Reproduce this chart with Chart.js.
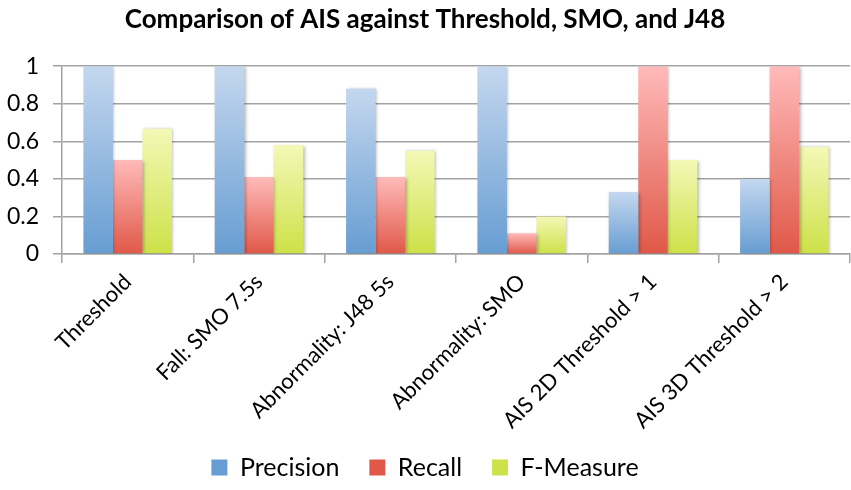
<!DOCTYPE html>
<html>
<head>
<meta charset="utf-8">
<script src="https://cdn.jsdelivr.net/npm/chart.js@4"></script>
<style>
  html, body { margin: 0; padding: 0; background: #fff; }
  #wrap { width: 851px; height: 490px; position: relative; }
</style>
</head>
<body>
<div id="wrap"><canvas id="c" width="851" height="490"></canvas></div>
<script>
const titleText = 'Comparison of AIS against Threshold, SMO, and J48';
const categories = ['Threshold', 'Fall: SMO 7.5s', 'Abnormality: J48 5s', 'Abnormality: SMO', 'AIS 2D Threshold > 1', 'AIS 3D Threshold > 2'];
const seriesNames = ['Precision', 'Recall', 'F-Measure'];
const precision = [1, 1, 0.88, 1, 0.33, 0.4];
const recall = [0.5, 0.41, 0.41, 0.11, 1, 1];
const fMeasure = [0.667, 0.58, 0.55, 0.2, 0.5, 0.57];
const yTickValues = [0, 0.2, 0.4, 0.6, 0.8, 1];

const FONT = 'Lato, "Open Sans", sans-serif';
const GRID = '#a3a3a3';

function gradient(top, bottom, mid) {
  return (ctx) => {
    const chart = ctx.chart;
    if (ctx.type !== 'data' || !chart.chartArea) return mid;
    const ys = chart.scales.y;
    const yTop = ys.getPixelForValue(ctx.raw);
    const yBot = ys.getPixelForValue(0);
    if (!isFinite(yTop) || yBot - yTop < 1) return bottom;
    const g = chart.ctx.createLinearGradient(0, yTop, 0, yBot);
    g.addColorStop(0, top);
    g.addColorStop(1, bottom);
    return g;
  };
}

const shadowPlugin = {
  id: 'barShadow',
  beforeDatasetsDraw(chart) {
    const c = chart.ctx;
    c.save();
    c.shadowColor = 'rgba(0,0,0,0.28)';
    c.shadowBlur = 3;
    c.shadowOffsetX = 1.5;
    c.shadowOffsetY = 0.5;
  },
  afterDatasetsDraw(chart) {
    chart.ctx.restore();
  }
};

new Chart(document.getElementById('c'), {
  type: 'bar',
  data: {
    labels: categories,
    datasets: [
      { label: seriesNames[0], data: precision, backgroundColor: gradient('#c4d7ef', '#679dd2', '#94b9e2') },
      { label: seriesNames[1], data: recall, backgroundColor: gradient('#ffbaba', '#e05848', '#f7938c') },
      { label: seriesNames[2], data: fMeasure, backgroundColor: gradient('#f4f8b6', '#cde148', '#e2ec86') }
    ]
  },
  plugins: [shadowPlugin],
  options: {
    responsive: false,
    animation: false,
    devicePixelRatio: 1,
    layout: { padding: { left: 0, right: 1, top: 0, bottom: 0 } },
    datasets: { bar: { categoryPercentage: 0.674, barPercentage: 1.0, borderWidth: 0 } },
    plugins: {
      title: {
        display: true,
        text: titleText,
        color: '#000',
        font: { family: FONT, size: 26, weight: 'bold' },
        padding: { top: 4, bottom: 31 }
      },
      legend: {
        position: 'bottom',
        labels: {
          color: '#000',
          font: { family: FONT, size: 25 },
          boxWidth: 16,
          boxHeight: 16,
          padding: 30
        }
      },
      tooltip: { enabled: false }
    },
    scales: {
      x: {
        grid: { display: true, drawOnChartArea: false, offset: true, tickLength: 9, color: GRID, lineWidth: 1.5 },
        border: { display: true, color: GRID, width: 1.5 },
        ticks: { color: '#000', font: { family: FONT, size: 22 }, minRotation: 45, maxRotation: 45, padding: 6, autoSkip: false },
        afterFit(scale) {
          scale.height = 171;
          scale._computeLabelArea = () => undefined;
        }
      },
      y: {
        min: 0,
        max: 1,
        afterBuildTicks(scale) { scale.ticks = yTickValues.map(v => ({ value: v })); },
        grid: { color: GRID, lineWidth: 1.5, tickLength: 9 },
        border: { display: true, color: GRID, width: 1.5 },
        ticks: {
          color: '#000',
          font: { family: FONT, size: 23 },
          padding: 14,
          callback: (v) => String(Math.round(v * 10) / 10)
        },
        afterFit(scale) { scale.width = 62; }
      }
    }
  }
});
</script>
</body>
</html>
